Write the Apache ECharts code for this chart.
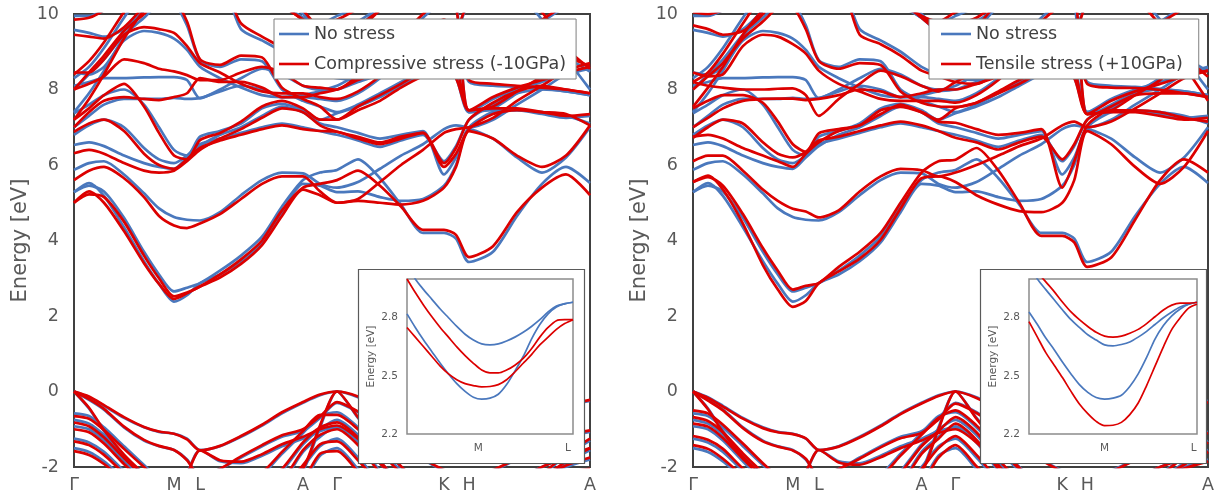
<!DOCTYPE html>
<html>
<head>
<meta charset="utf-8">
<script src="https://cdn.jsdelivr.net/npm/echarts@6/dist/echarts.min.js"></script>
<style>
  html, body { margin: 0; padding: 0; background: #ffffff; }
  #chart { width: 1220px; height: 496px; }
</style>
</head>
<body>
<div id="chart"></div>
<script>
// High-symmetry points along the k-path (path-length units) and their labels
const kPoints = [0, 100, 126, 229, 263, 370, 395, 516];
const kLabels = ['Γ', 'M', 'L', 'A', 'Γ', 'K', 'H', 'A'];

// Sampling positions along the path (Γ-M-L-A-Γ-K-H-A)
const kPath = [0, 15, 30, 50, 70, 85, 100, 113, 126, 146, 167, 188, 208, 229, 246, 263, 284, 306, 327, 349, 370, 382, 395, 419, 443, 468, 492, 516];

// Band energies (eV) at the sampling positions, no stress
const noStressBands = [
  [5.28,5.52,5.18,4.35,3.45,2.85,2.38,2.55,2.87,3.10,3.45,3.95,4.75,5.50,5.45,5.28,5.30,5.15,5.05,5.10,5.45,6.00,6.95,6.70,6.20,5.80,6.20,7.00],
  [5.28,5.45,5.30,4.60,3.70,3.10,2.65,2.75,2.87,3.20,3.60,4.10,4.90,5.60,5.80,5.87,6.15,5.65,4.95,4.20,4.20,4.05,3.43,3.70,4.65,5.50,5.95,5.52],
  [5.87,6.05,6.10,5.75,5.25,4.85,4.62,4.55,4.53,4.75,5.20,5.60,5.80,5.78,5.50,5.40,5.55,5.90,6.25,6.55,6.95,7.05,7.00,7.20,7.60,8.00,8.40,8.60],
  [6.53,6.60,6.50,6.25,6.05,5.95,5.90,6.20,6.50,6.80,7.00,7.30,7.55,7.40,7.10,7.00,6.85,6.70,6.80,6.90,5.75,6.20,7.00,7.40,7.45,7.40,7.30,7.10],
  [6.80,7.05,7.20,7.00,6.45,6.15,6.05,6.25,6.55,6.70,6.85,7.00,7.10,7.00,6.90,6.80,6.65,6.48,6.65,6.80,6.10,6.50,7.20,7.60,7.90,8.00,7.95,7.85],
  [7.37,7.60,7.85,8.00,7.60,7.00,6.40,6.25,6.75,6.90,7.10,7.50,7.62,7.45,7.20,7.37,7.55,7.80,8.10,8.40,8.50,8.30,7.40,7.50,7.90,8.30,8.80,8.47],
  [7.00,7.30,7.60,7.75,7.75,7.75,7.78,7.75,7.77,7.95,8.10,8.00,7.80,7.85,7.95,8.00,8.20,8.40,8.70,9.00,8.90,8.60,7.40,7.75,8.00,8.20,8.40,8.55],
  [8.10,8.20,8.30,8.30,8.32,8.33,8.33,8.25,7.77,8.00,8.30,8.55,8.40,8.10,8.00,8.10,8.40,8.70,9.10,9.50,9.80,9.40,8.20,8.10,8.07,8.02,7.95,7.85],
  [8.45,8.40,8.60,9.30,9.55,9.50,9.35,9.05,8.60,8.30,8.05,7.85,7.80,7.80,7.75,7.70,7.90,8.30,8.80,9.20,9.40,9.20,8.60,9.00,9.40,9.80,10.20,10.50],
  [8.00,8.40,8.80,9.45,9.90,10.30,10.60,10.60,10.50,10.50,10.50,10.40,10.20,9.90,9.50,9.20,9.60,10.20,10.50,10.50,10.40,10.30,7.40,7.45,7.45,7.35,7.25,7.30],
  [7.40,7.90,8.50,9.40,10.10,10.50,10.30,9.70,8.78,8.60,8.80,8.75,8.00,7.70,7.55,7.40,7.60,7.90,8.20,8.50,8.80,9.40,10.30,10.60,10.50,9.85,8.85,8.00],
  [9.58,9.50,9.40,9.60,10.10,10.60,10.80,10.80,10.80,10.80,10.80,10.80,10.50,10.00,9.60,9.58,9.80,10.20,10.60,10.80,10.80,10.80,10.80,10.80,10.80,10.80,10.80,10.80],
  [9.95,9.95,10.10,10.40,10.80,10.80,10.80,10.80,10.80,10.80,10.80,10.60,10.30,9.90,9.75,9.95,10.20,10.60,10.80,10.80,10.80,10.80,10.80,10.80,10.80,10.80,10.80,10.80],
  [8.30,8.60,9.10,9.90,10.60,10.80,10.80,10.80,10.80,10.80,9.60,9.30,9.00,8.60,8.40,8.30,8.25,8.60,9.30,9.90,10.40,10.80,10.80,10.80,10.80,10.80,10.80,10.80],
  [0.00,-0.15,-0.38,-0.70,-0.95,-1.07,-1.12,-1.25,-1.55,-1.45,-1.20,-0.90,-0.58,-0.30,-0.10,0.00,-0.15,-0.45,-0.80,-1.05,-1.15,-1.20,-1.25,-1.05,-0.80,-0.55,-0.38,-0.25],
  [0.00,-0.22,-0.48,-0.95,-1.30,-1.45,-1.55,-1.80,-2.25,-2.05,-1.75,-1.45,-1.20,-1.05,-0.70,-0.30,-0.55,-0.95,-1.40,-1.80,-2.10,-2.20,-2.30,-2.10,-1.80,-1.50,-1.20,-1.07],
  [0.00,-0.45,-1.05,-1.70,-2.20,-2.50,-2.70,-2.60,-2.55,-2.60,-2.70,-2.80,-2.60,-2.10,-0.95,0.00,-0.70,-1.40,-2.00,-2.50,-2.80,-2.80,-2.80,-2.70,-2.50,-2.20,-1.70,-1.30],
  [-0.58,-0.65,-0.95,-1.45,-1.95,-2.30,-2.50,-2.50,-2.50,-2.50,-2.40,-2.20,-1.65,-1.10,-0.65,-0.55,-0.95,-1.55,-2.10,-2.50,-2.60,-2.60,-2.60,-2.50,-2.30,-2.00,-1.75,-1.55],
  [-0.75,-0.85,-1.15,-1.70,-2.20,-2.50,-2.60,-2.60,-2.60,-2.60,-2.60,-2.50,-2.10,-1.40,-1.00,-0.75,-1.15,-1.85,-2.40,-2.70,-2.80,-2.80,-2.80,-2.70,-2.50,-2.30,-2.00,-1.80],
  [-0.92,-1.00,-1.30,-1.85,-2.35,-2.60,-2.70,-2.70,-2.70,-2.70,-2.70,-2.60,-2.40,-1.60,-1.20,-0.92,-1.35,-2.10,-2.60,-2.80,-2.90,-2.90,-2.90,-2.80,-2.60,-2.40,-2.20,-2.10],
  [-1.25,-1.35,-1.60,-2.10,-2.50,-2.80,-2.90,-2.90,-2.90,-2.90,-2.90,-2.80,-2.60,-2.00,-1.45,-1.25,-1.75,-2.40,-2.80,-3.00,-3.00,-3.00,-3.00,-3.00,-2.80,-2.60,-2.40,-2.30],
  [-1.50,-1.60,-1.85,-2.30,-2.70,-3.00,-3.00,-3.00,-3.00,-3.00,-3.00,-3.00,-2.80,-2.40,-1.70,-1.50,-2.05,-2.60,-3.00,-3.00,-3.00,-3.00,-3.00,-3.00,-3.00,-2.90,-2.70,-2.60],
  [-3.00,-3.00,-3.00,-3.00,-3.00,-3.00,-2.60,-2.15,-1.55,-1.85,-1.90,-1.70,-1.45,-1.25,-1.05,-0.95,-1.30,-1.90,-2.50,-2.80,-2.90,-2.90,-2.90,-2.80,-2.60,-2.30,-1.90,-1.55]
];

// Band energies (eV), compressive stress -10 GPa
const compressiveBands = [
  [5.00,5.30,5.00,4.25,3.40,2.85,2.45,2.60,2.78,3.02,3.38,3.88,4.65,5.35,5.20,5.00,5.05,5.00,4.95,5.05,5.40,5.95,6.90,6.70,6.25,5.95,6.25,7.05],
  [5.00,5.22,5.15,4.50,3.60,3.00,2.52,2.62,2.78,3.10,3.50,4.00,4.80,5.40,5.50,5.60,5.85,5.45,4.90,4.28,4.28,4.15,3.56,3.85,4.75,5.40,5.75,5.20],
  [5.60,5.85,5.95,5.65,5.15,4.65,4.40,4.33,4.45,4.70,5.10,5.50,5.70,5.70,5.30,5.00,5.10,5.55,6.00,6.40,6.85,6.95,7.00,7.25,7.70,8.10,8.50,8.70],
  [6.31,6.40,6.30,6.05,5.85,5.80,5.85,6.10,6.40,6.70,6.95,7.25,7.50,7.40,7.05,6.88,6.75,6.60,6.75,6.85,5.95,6.30,6.95,7.35,7.45,7.40,7.35,7.05],
  [6.88,7.10,7.20,6.90,6.30,6.00,5.90,6.15,6.45,6.65,6.80,6.95,7.05,6.95,6.90,6.88,6.70,6.55,6.70,6.85,6.05,6.45,7.20,7.65,7.95,8.10,8.00,7.90],
  [7.20,7.50,7.85,8.15,7.55,6.85,6.25,6.15,6.66,6.85,7.15,7.55,7.70,7.50,7.20,7.20,7.45,7.70,8.05,8.35,8.50,8.30,7.45,7.55,7.95,8.35,8.85,8.60],
  [7.00,7.40,7.70,7.80,7.75,7.72,7.80,7.90,8.30,8.20,8.20,8.05,7.80,7.80,7.90,8.00,8.25,8.45,8.75,9.05,8.95,8.65,7.45,7.80,8.05,8.25,8.45,8.60],
  [8.00,8.15,8.35,8.80,8.70,8.55,8.48,8.38,8.25,8.25,8.45,8.60,8.45,8.10,8.05,8.00,8.35,8.65,9.10,9.55,9.85,9.45,8.25,8.15,8.10,8.05,8.00,7.90],
  [8.45,8.45,8.80,9.45,9.65,9.60,9.50,9.15,8.70,8.45,8.15,7.95,7.90,7.90,7.80,7.75,7.95,8.35,8.85,9.25,9.45,9.25,8.65,9.05,9.45,9.85,10.25,10.55],
  [8.00,8.45,8.90,9.55,10.00,10.40,10.60,10.60,10.50,10.50,10.50,10.40,10.20,9.85,9.45,9.15,9.55,10.10,10.50,10.50,10.40,10.20,7.45,7.50,7.50,7.40,7.30,7.35],
  [7.20,7.75,8.40,9.35,10.10,10.60,10.40,9.80,8.80,8.65,8.90,8.85,8.05,7.75,7.55,7.20,7.55,7.85,8.15,8.50,8.85,9.50,10.30,10.60,10.60,10.05,9.10,8.55],
  [9.45,9.40,9.35,9.65,10.20,10.60,10.80,10.80,10.80,10.80,10.80,10.80,10.60,10.10,9.60,9.45,9.70,10.10,10.60,10.80,10.80,10.80,10.80,10.80,10.80,10.80,10.80,10.80],
  [9.85,9.90,10.10,10.50,10.80,10.80,10.80,10.80,10.80,10.80,10.80,10.60,10.25,9.85,9.70,9.85,10.15,10.60,10.80,10.80,10.80,10.80,10.80,10.80,10.80,10.80,10.80,10.80],
  [8.40,8.75,9.25,10.05,10.70,10.80,10.80,10.80,10.80,10.80,9.75,9.40,9.10,8.70,8.45,8.40,8.35,8.70,9.40,10.00,10.50,10.80,10.80,10.80,10.80,10.80,10.80,10.80],
  [0.00,-0.13,-0.36,-0.68,-0.94,-1.06,-1.12,-1.27,-1.56,-1.44,-1.18,-0.88,-0.55,-0.28,-0.08,0.00,-0.13,-0.43,-0.78,-1.03,-1.13,-1.18,-1.23,-1.03,-0.78,-0.53,-0.36,-0.22],
  [0.00,-0.20,-0.46,-0.93,-1.28,-1.44,-1.55,-1.82,-2.25,-2.05,-1.72,-1.42,-1.16,-1.00,-0.66,-0.28,-0.53,-0.93,-1.38,-1.78,-2.08,-2.18,-2.28,-2.08,-1.78,-1.48,-1.17,-1.03],
  [0.00,-0.43,-1.02,-1.67,-2.18,-2.50,-2.70,-2.60,-2.55,-2.60,-2.70,-2.80,-2.60,-2.05,-0.90,0.00,-0.68,-1.38,-1.98,-2.48,-2.80,-2.80,-2.80,-2.70,-2.48,-2.18,-1.66,-1.25],
  [-0.65,-0.72,-1.02,-1.52,-2.00,-2.35,-2.50,-2.50,-2.50,-2.50,-2.40,-2.15,-1.60,-1.05,-0.62,-0.62,-1.00,-1.60,-2.15,-2.50,-2.60,-2.60,-2.60,-2.50,-2.30,-2.00,-1.72,-1.50],
  [-0.82,-0.92,-1.22,-1.76,-2.25,-2.50,-2.60,-2.60,-2.60,-2.60,-2.60,-2.45,-2.05,-1.35,-0.95,-0.82,-1.22,-1.90,-2.45,-2.70,-2.80,-2.80,-2.80,-2.70,-2.50,-2.28,-1.96,-1.75],
  [-1.00,-1.08,-1.38,-1.92,-2.40,-2.60,-2.70,-2.70,-2.70,-2.70,-2.70,-2.55,-2.35,-1.55,-1.15,-1.00,-1.42,-2.15,-2.60,-2.80,-2.90,-2.90,-2.90,-2.80,-2.60,-2.38,-2.15,-2.05],
  [-1.32,-1.42,-1.68,-2.16,-2.55,-2.80,-2.90,-2.90,-2.90,-2.90,-2.90,-2.75,-2.55,-1.95,-1.40,-1.32,-1.82,-2.45,-2.80,-3.00,-3.00,-3.00,-3.00,-3.00,-2.80,-2.58,-2.35,-2.25],
  [-1.58,-1.68,-1.92,-2.36,-2.75,-3.00,-3.00,-3.00,-3.00,-3.00,-3.00,-3.00,-2.75,-2.35,-1.65,-1.58,-2.12,-2.65,-3.00,-3.00,-3.00,-3.00,-3.00,-3.00,-3.00,-2.88,-2.66,-2.55],
  [-3.00,-3.00,-3.00,-3.00,-3.00,-3.00,-2.62,-2.18,-1.56,-1.82,-1.86,-1.66,-1.40,-1.20,-1.00,-0.90,-1.25,-1.85,-2.45,-2.80,-2.90,-2.90,-2.90,-2.80,-2.60,-2.28,-1.86,-1.50]
];

// Band energies (eV), tensile stress +10 GPa
const tensileBands = [
  [5.55,5.72,5.35,4.45,3.35,2.70,2.24,2.40,2.87,3.18,3.52,4.02,4.85,5.65,5.70,5.55,5.20,4.95,4.78,4.75,5.00,5.60,6.90,6.55,5.95,5.50,5.95,6.90],
  [5.55,5.68,5.45,4.70,3.80,3.20,2.70,2.80,2.87,3.30,3.70,4.20,5.00,5.80,6.10,6.14,6.45,5.85,5.00,4.12,4.12,3.95,3.30,3.55,4.55,5.60,6.15,5.80],
  [6.10,6.25,6.25,5.85,5.35,5.05,4.84,4.77,4.61,4.80,5.30,5.70,5.90,5.86,5.70,5.80,6.00,6.25,6.50,6.70,7.05,7.15,7.00,7.15,7.50,7.90,8.30,8.50],
  [6.75,6.80,6.70,6.45,6.25,6.10,5.95,6.30,6.60,6.90,7.05,7.35,7.60,7.40,7.15,7.12,6.95,6.80,6.85,6.95,5.40,6.10,7.05,7.45,7.45,7.40,7.25,7.15],
  [6.72,7.00,7.20,7.10,6.60,6.30,6.20,6.35,6.65,6.75,6.90,7.05,7.15,7.05,6.90,6.72,6.60,6.41,6.60,6.75,6.15,6.55,7.20,7.55,7.85,7.90,7.90,7.80],
  [7.50,7.70,7.85,7.85,7.65,7.15,6.55,6.35,6.84,6.95,7.05,7.45,7.54,7.40,7.20,7.50,7.65,7.90,8.15,8.45,8.50,8.30,7.35,7.45,7.85,8.25,8.75,8.34],
  [7.00,7.25,7.50,7.70,7.75,7.76,7.76,7.72,7.75,7.85,8.00,7.95,7.80,7.90,8.00,8.00,8.15,8.35,8.65,8.95,8.85,8.55,7.35,7.70,7.95,8.15,8.35,8.50],
  [8.20,8.10,8.05,8.00,8.00,8.02,8.03,7.85,7.30,7.75,8.15,8.50,8.35,8.10,7.95,8.20,8.45,8.75,9.10,9.45,9.75,9.35,8.15,8.05,8.04,7.99,7.90,7.80],
  [8.45,8.35,8.40,9.15,9.45,9.40,9.20,8.95,8.50,8.15,7.95,7.75,7.70,7.70,7.70,7.65,7.85,8.25,8.75,9.15,9.35,9.15,8.55,8.95,9.35,9.75,10.15,10.45],
  [8.00,8.35,8.70,9.35,9.80,10.20,10.60,10.60,10.50,10.50,10.50,10.40,10.20,9.95,9.55,9.25,9.65,10.30,10.50,10.50,10.40,10.40,7.35,7.40,7.40,7.30,7.20,7.25],
  [7.54,8.05,8.60,9.45,10.10,10.40,10.20,9.60,8.76,8.55,8.70,8.65,7.95,7.65,7.55,7.54,7.65,7.95,8.25,8.50,8.75,9.30,10.30,10.60,10.40,9.70,8.65,7.70],
  [9.70,9.60,9.45,9.55,10.00,10.60,10.80,10.80,10.80,10.80,10.80,10.80,10.40,9.90,9.60,9.70,9.90,10.30,10.60,10.80,10.80,10.80,10.80,10.80,10.80,10.80,10.80,10.80],
  [10.05,10.00,10.10,10.30,10.80,10.80,10.80,10.80,10.80,10.80,10.80,10.60,10.35,9.95,9.80,10.05,10.25,10.60,10.80,10.80,10.80,10.80,10.80,10.80,10.80,10.80,10.80,10.80],
  [8.20,8.45,8.95,9.75,10.50,10.80,10.80,10.80,10.80,10.80,9.45,9.20,8.90,8.50,8.35,8.20,8.15,8.50,9.20,9.80,10.30,10.80,10.80,10.80,10.80,10.80,10.80,10.80],
  [0.00,-0.17,-0.40,-0.72,-0.97,-1.08,-1.13,-1.24,-1.55,-1.46,-1.22,-0.92,-0.60,-0.32,-0.12,0.00,-0.17,-0.47,-0.82,-1.07,-1.17,-1.22,-1.27,-1.07,-0.82,-0.57,-0.40,-0.28],
  [0.00,-0.24,-0.50,-0.97,-1.32,-1.46,-1.56,-1.78,-2.25,-2.05,-1.78,-1.48,-1.24,-1.10,-0.74,-0.32,-0.57,-0.97,-1.42,-1.82,-2.12,-2.22,-2.32,-2.12,-1.82,-1.52,-1.23,-1.10],
  [0.00,-0.47,-1.08,-1.73,-2.22,-2.50,-2.70,-2.60,-2.55,-2.60,-2.70,-2.80,-2.60,-2.15,-1.00,0.00,-0.72,-1.42,-2.02,-2.52,-2.80,-2.80,-2.80,-2.70,-2.52,-2.22,-1.74,-1.35],
  [-0.50,-0.58,-0.88,-1.38,-1.90,-2.25,-2.50,-2.50,-2.50,-2.50,-2.40,-2.25,-1.70,-1.15,-0.70,-0.50,-0.90,-1.50,-2.05,-2.50,-2.60,-2.60,-2.60,-2.50,-2.30,-2.00,-1.78,-1.60],
  [-0.68,-0.78,-1.08,-1.64,-2.15,-2.50,-2.60,-2.60,-2.60,-2.60,-2.60,-2.55,-2.15,-1.45,-1.05,-0.68,-1.08,-1.80,-2.35,-2.70,-2.80,-2.80,-2.80,-2.70,-2.50,-2.32,-2.04,-1.85],
  [-0.85,-0.93,-1.23,-1.78,-2.30,-2.60,-2.70,-2.70,-2.70,-2.70,-2.70,-2.65,-2.45,-1.65,-1.25,-0.85,-1.28,-2.05,-2.60,-2.80,-2.90,-2.90,-2.90,-2.80,-2.60,-2.42,-2.25,-2.15],
  [-1.18,-1.28,-1.52,-2.04,-2.45,-2.80,-2.90,-2.90,-2.90,-2.90,-2.90,-2.85,-2.65,-2.05,-1.50,-1.18,-1.68,-2.35,-2.80,-3.00,-3.00,-3.00,-3.00,-3.00,-2.80,-2.62,-2.45,-2.35],
  [-1.42,-1.52,-1.78,-2.24,-2.65,-3.00,-3.00,-3.00,-3.00,-3.00,-3.00,-3.00,-2.85,-2.45,-1.75,-1.42,-1.98,-2.55,-3.00,-3.00,-3.00,-3.00,-3.00,-3.00,-3.00,-2.92,-2.74,-2.65],
  [-3.00,-3.00,-3.00,-3.00,-3.00,-3.00,-2.58,-2.12,-1.55,-1.88,-1.94,-1.74,-1.50,-1.30,-1.10,-1.00,-1.35,-1.95,-2.55,-2.80,-2.90,-2.90,-2.90,-2.80,-2.60,-2.32,-1.94,-1.60]
];

// Close-up around M-L: sampling positions and energies of the two lowest conduction bands
const insetPos = [0, 5, 10, 15, 20, 25, 30, 35, 40, 45, 50, 55, 60, 65, 70, 75, 80, 85, 90, 95, 100];
const insetLeftNoStress = [
  [3.08, 3.00, 2.945, 2.895, 2.845, 2.80, 2.755, 2.715, 2.685, 2.665, 2.66, 2.665, 2.68, 2.70, 2.725, 2.755, 2.79, 2.83, 2.86, 2.872, 2.88],
  [2.82, 2.75, 2.685, 2.625, 2.565, 2.51, 2.46, 2.42, 2.39, 2.38, 2.385, 2.405, 2.455, 2.525, 2.60, 2.69, 2.765, 2.82, 2.855, 2.873, 2.88]
];
const insetLeftCompressive = [
  [3.00, 2.93, 2.865, 2.805, 2.75, 2.70, 2.65, 2.605, 2.565, 2.53, 2.515, 2.515, 2.53, 2.555, 2.59, 2.64, 2.70, 2.75, 2.785, 2.79, 2.79],
  [2.75, 2.70, 2.65, 2.60, 2.55, 2.51, 2.48, 2.46, 2.45, 2.443, 2.445, 2.455, 2.48, 2.52, 2.565, 2.61, 2.66, 2.70, 2.74, 2.77, 2.79]
];
const insetRightNoStress = [
  [3.07, 3.00, 2.945, 2.893, 2.84, 2.79, 2.75, 2.712, 2.685, 2.66, 2.655, 2.662, 2.675, 2.70, 2.73, 2.765, 2.80, 2.83, 2.855, 2.87, 2.88],
  [2.83, 2.765, 2.695, 2.635, 2.57, 2.51, 2.455, 2.415, 2.388, 2.38, 2.385, 2.40, 2.445, 2.51, 2.595, 2.69, 2.76, 2.81, 2.845, 2.87, 2.88]
];
const insetRightTensile = [
  [3.09, 3.035, 2.985, 2.935, 2.88, 2.83, 2.79, 2.755, 2.725, 2.705, 2.70, 2.705, 2.72, 2.74, 2.77, 2.805, 2.84, 2.865, 2.875, 2.875, 2.88],
  [2.78, 2.70, 2.62, 2.555, 2.49, 2.42, 2.355, 2.305, 2.265, 2.243, 2.245, 2.26, 2.30, 2.36, 2.45, 2.55, 2.65, 2.74, 2.80, 2.85, 2.87]
];
const insetTicksY = [2.2, 2.5, 2.8];
const insetLeftTicksX = [43, 97];
const insetRightTicksX = [45, 98];
const insetLabelsX = ['M', 'L'];

const BLUE = '#4a78bd';
const RED = '#dc0000';
const FONT = 'DejaVu Sans, Liberation Sans, sans-serif';

const chart = echarts.init(document.getElementById('chart'), null, { renderer: 'canvas' });

function bandSeries(bands, name, color, axisIdx, z) {
  return bands.map(b => ({
    type: 'line', name: name,
    xAxisIndex: axisIdx, yAxisIndex: axisIdx,
    data: kPath.map((k, i) => [k, b[i]]),
    smooth: 0.25, symbol: 'none', showSymbol: false,
    lineStyle: { color: color, width: 2.7 },
    itemStyle: { color: color },
    z: z, silent: true, animation: false
  }));
}

function insetSeries(curves, color, axisIdx) {
  return curves.map(c => ({
    type: 'line', name: 'close-up',
    xAxisIndex: axisIdx, yAxisIndex: axisIdx,
    data: insetPos.map((u, i) => [u, c[i]]),
    smooth: 0.3, symbol: 'none', showSymbol: false,
    lineStyle: { color: color, width: 1.7 },
    z: 22, silent: true, animation: false
  }));
}

function mainX(gridIndex) {
  return {
    type: 'value', gridIndex: gridIndex, min: 0, max: 516,
    axisLine: { show: false }, axisTick: { show: false }, splitLine: { show: false },
    axisLabel: {
      customValues: kPoints, showMinLabel: true, showMaxLabel: true,
      formatter: v => kLabels[kPoints.indexOf(v)],
      color: '#595959', fontSize: 17.5, fontFamily: FONT, margin: 9
    }
  };
}
function mainY(gridIndex) {
  return {
    type: 'value', gridIndex: gridIndex, min: -2, max: 10, interval: 2,
    name: 'Energy [eV]', nameLocation: 'middle', nameGap: 43, nameRotate: 90,
    nameTextStyle: { color: '#595959', fontSize: 21, fontFamily: FONT },
    axisLine: { show: false }, axisTick: { show: false }, splitLine: { show: false },
    axisLabel: { color: '#595959', fontSize: 17.5, fontFamily: FONT, margin: 15 }
  };
}
function insetX(gridIndex, ticks) {
  return {
    type: 'value', gridIndex: gridIndex, min: 0, max: 100, z: 21,
    axisLine: { show: false }, axisTick: { show: false }, splitLine: { show: false },
    axisLabel: {
      customValues: ticks, formatter: v => insetLabelsX[ticks.indexOf(v)],
      color: '#595959', fontSize: 10.5, fontFamily: FONT, margin: 9
    }
  };
}
function insetY(gridIndex) {
  return {
    type: 'value', gridIndex: gridIndex, min: 2.2, max: 3.0, z: 21,
    name: 'Energy [eV]', nameLocation: 'middle', nameGap: 30, nameRotate: 90,
    nameTextStyle: { color: '#595959', fontSize: 10.5, fontFamily: FONT },
    axisLine: { show: false }, axisTick: { show: false }, splitLine: { show: false },
    axisLabel: {
      customValues: insetTicksY, formatter: v => v.toFixed(1),
      color: '#595959', fontSize: 10.5, fontFamily: FONT, margin: 9
    }
  };
}

const legendCommon = {
  orient: 'vertical', top: 19, selectedMode: false,
  icon: 'rect', itemWidth: 30, itemHeight: 2.6, itemGap: 12,
  backgroundColor: '#ffffff', borderColor: '#7f7f7f', borderWidth: 1,
  textStyle: { color: '#404040', fontSize: 17.5, fontFamily: FONT, lineHeight: 18 },
  z: 30
};

const option = {
  backgroundColor: '#ffffff',
  animation: false,
  grid: [
    { left: 74, top: 14, width: 516, height: 453, show: true, borderColor: '#404040', borderWidth: 2, backgroundColor: 'transparent' },
    { left: 693, top: 14, width: 515, height: 453, show: true, borderColor: '#404040', borderWidth: 2, backgroundColor: 'transparent' },
    { left: 407, top: 279, width: 166, height: 155, show: true, borderColor: '#8c8c8c', borderWidth: 1.5, z: 21 },
    { left: 1029, top: 279, width: 168, height: 155, show: true, borderColor: '#8c8c8c', borderWidth: 1.5, z: 21 }
  ],
  xAxis: [mainX(0), mainX(1), insetX(2, insetLeftTicksX), insetX(3, insetRightTicksX)],
  yAxis: [mainY(0), mainY(1), insetY(2), insetY(3)],
  legend: [
    Object.assign({}, legendCommon, { left: 274, padding: [6, 10, 6, 5], data: ['No stress', 'Compressive stress (-10GPa)'] }),
    Object.assign({}, legendCommon, { left: 929, padding: [6, 16, 6, 12], data: ['No stress', 'Tensile stress (+10GPa)'] })
  ],
  graphic: [
    { type: 'rect', shape: { x: 358.5, y: 269.5, width: 226, height: 194 }, style: { fill: '#ffffff', stroke: '#5a5a5a', lineWidth: 1.2 }, z: 20, silent: true },
    { type: 'rect', shape: { x: 980.5, y: 269.5, width: 226, height: 194 }, style: { fill: '#ffffff', stroke: '#5a5a5a', lineWidth: 1.2 }, z: 20, silent: true }
  ],
  series: [].concat(
    bandSeries(noStressBands, 'No stress', BLUE, 0, 2),
    bandSeries(compressiveBands, 'Compressive stress (-10GPa)', RED, 0, 3),
    bandSeries(noStressBands, 'No stress', BLUE, 1, 2),
    bandSeries(tensileBands, 'Tensile stress (+10GPa)', RED, 1, 3),
    insetSeries(insetLeftNoStress, BLUE, 2),
    insetSeries(insetLeftCompressive, RED, 2),
    insetSeries(insetRightNoStress, BLUE, 3),
    insetSeries(insetRightTensile, RED, 3)
  )
};

chart.setOption(option);
</script>
</body>
</html>
